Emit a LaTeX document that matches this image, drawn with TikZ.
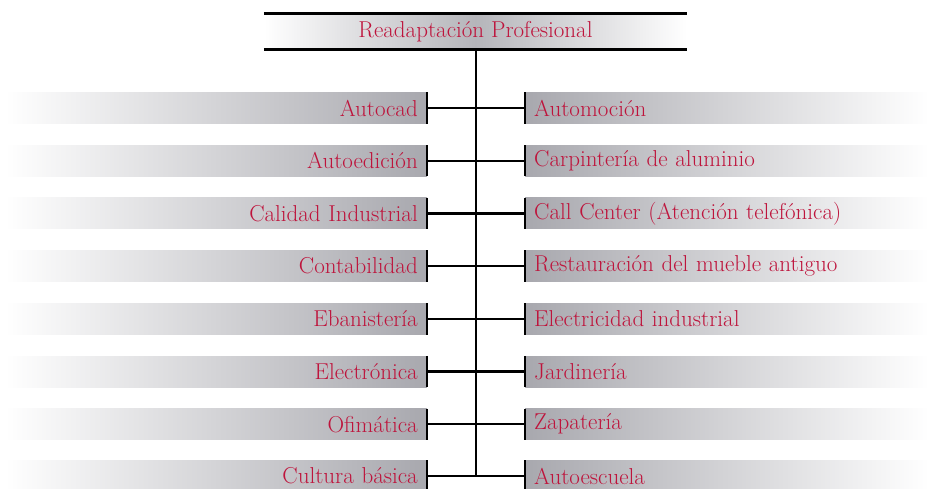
\documentclass[tikz,border=0pt]{standalone}
\usepackage{fontspec}
\definecolor{txt}{RGB}{190,20,60}
\definecolor{barg}{RGB}{168,168,174}
\tikzset{
  bar/.style={rectangle, minimum height=31pt, inner sep=0pt, text=txt,
    font=\fontsize{23}{26}\selectfont},
  lbar/.style={bar, minimum width=422pt, text width=412pt, align=right,
    left color=white, right color=barg},
  rbar/.style={bar, minimum width=404pt, text width=394pt, align=left,
    left color=barg, right color=white},
  tick/.style={line width=2.8pt},
  conn/.style={line width=2.2pt},
}
\begin{document}
\begin{tikzpicture}[x=1pt,y=-1pt]
\useasboundingbox (0,0) rectangle (928,488);
\node[bar, minimum width=423pt, minimum height=35pt, anchor=center,
  left color=white, right color=white, middle color=barg!85!white] (title) at (475.5,31.5) {Readaptación Profesional};
\draw[line width=2.8pt] (title.north west) -- (title.north east);
\draw[line width=2.8pt] (title.south west) -- (title.south east);
\foreach \i/\l/\r [count=\n] in {108/Autocad/Automoción,
  160.7/Autoedición/Carpintería de aluminio,
  213.4/Calidad Industrial/Call Center (Atención telefónica),
  266.1/Contabilidad/Restauración del mueble antiguo,
  318.8/Ebanistería/Electricidad industrial,
  371.5/Electrónica/Jardinería,
  424.2/Ofimática/Zapatería,
  476/Cultura básica/Autoescuela}{
  \node[lbar, anchor=east] (L\n) at (427,\i) {\l\hspace*{4pt}};
  \node[rbar, anchor=west] (R\n) at (525,\i) {\hspace*{4pt}\r};
  \draw[tick] (L\n.north east) -- (L\n.south east);
  \draw[tick] (R\n.north west) -- (R\n.south west);
  \draw[conn] (L\n.east) -- (R\n.west);
}
\coordinate (hub) at (476,476);
\draw[line width=2.6pt] (title.south -| hub) -- (hub);
\end{tikzpicture}
\end{document}
